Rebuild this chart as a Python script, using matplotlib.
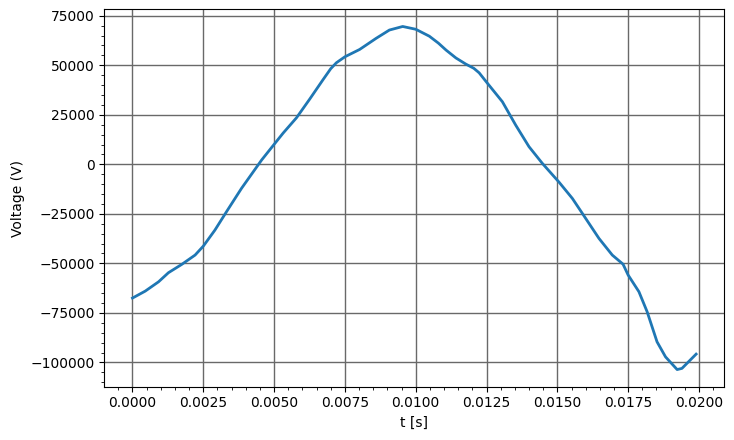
import matplotlib.pyplot as plt

# time samples (s) and voltage
t = [0.0, 0.00045, 0.00092, 0.00127, 0.00174, 0.00221, 0.0025, 0.00291, 0.00332,
     0.00385, 0.00456, 0.00485, 0.00532, 0.00579, 0.00626, 0.00673, 0.0070, 0.0072,
     0.0075, 0.00802, 0.0086, 0.00907, 0.00954, 0.0100, 0.01048, 0.0108, 0.01107,
     0.01142, 0.01177, 0.01205, 0.01224, 0.0125, 0.01306, 0.01353, 0.0140, 0.01447,
     0.01506, 0.01553, 0.01588, 0.01647, 0.01694, 0.01732, 0.0175, 0.01788, 0.01817,
     0.01852, 0.01882, 0.01923, 0.0194, 0.0199]
v = [-67500, -64000, -59300, -54700, -50500, -45800, -41300, -33200, -23900,
     -12100, 2200, 7400, 15800, 23500, 33000, 42800, 48300, 51300,
     54300, 58000, 63600, 67800, 69600, 68200, 64700, 61200, 57700,
     53700, 50600, 48500, 46200, 41500, 31600, 19800, 8900, 500,
     -9000, -17200, -24700, -37400, -45800, -50400, -55900, -64300, -74400,
     -89600, -97200, -103600, -103000, -95800]

fig = plt.figure(figsize=(7.34, 4.4), dpi=100)
ax = fig.add_axes([0.1421, 0.1211, 0.8447, 0.8577])

ax.plot(t, v, color="tab:blue", linewidth=2, zorder=3)
ax.set_xlabel("t [s]")
ax.set_ylabel("Voltage (V)")
ax.minorticks_on()
ax.grid(True, which="major", color="dimgray", linewidth=1)

plt.savefig("out.png", dpi=100)
